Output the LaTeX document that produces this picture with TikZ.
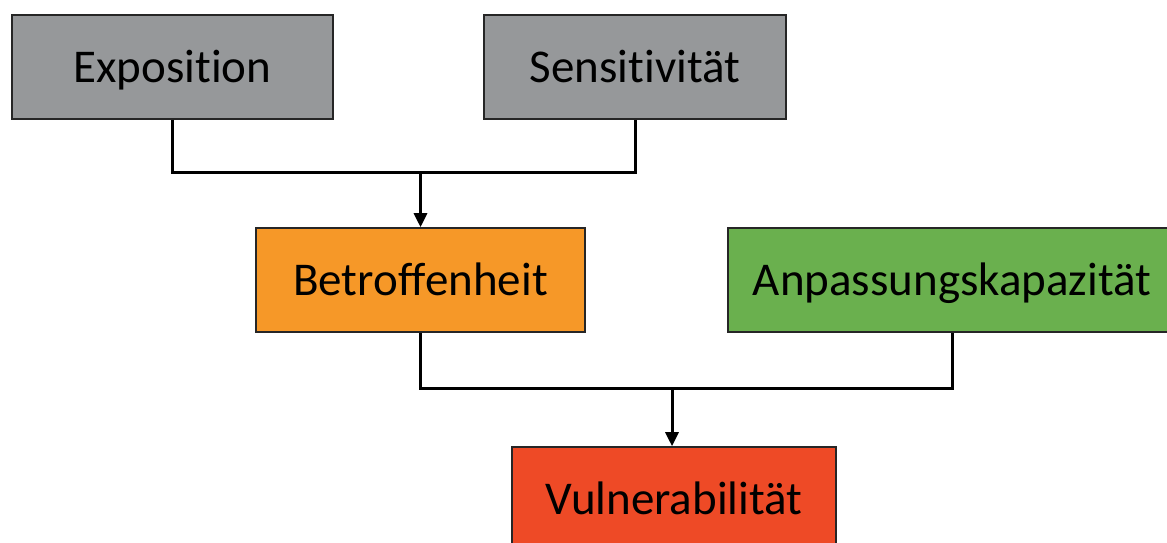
\documentclass[tikz,border=0pt]{standalone}
\usepackage{fontspec}
\setmainfont{Carlito}[Ligatures=CommonOff]
\usetikzlibrary{arrows.meta}
\definecolor{expgray}{RGB}{150,152,154}
\definecolor{betrorange}{RGB}{246,152,40}
\definecolor{anpgreen}{RGB}{106,176,78}
\definecolor{vulnred}{RGB}{238,74,38}

\begin{document}
\begin{tikzpicture}[ x=0.5pt, y=-0.5pt, >={Stealth[length=7pt,width=6.5pt,inset=0pt]},
    box/.style={ draw=black!85, line width=0.8pt, inner sep=0pt,
    minimum height=52pt, text height=15pt, text depth=0pt,
    font=\fontsize{23.5}{28}\selectfont }, link/.style={ line width=1.5pt } ]
  \useasboundingbox (0,0) rectangle (1167,542);
  \foreach \x/\y/\w/\c/\n/\l in {172.5/67/160.5/expgray/expo/Exposition,
    635/67/151/expgray/sens/Sensitivität,
    420.5/280/164.5/betrorange/betr/Betroffenheit,
    952/280/224/anpgreen/anp/Anpassungskapazität,
    674/499/162/vulnred/vuln/Vulnerabilität}
  \node[box,fill=\c,minimum width=\w pt] (\n) at (\x,\y) {\l};
  \coordinate (j1) at (420.5,172);
  \coordinate (j2) at (672,388);
  \draw[link] (expo.south) |- (j1) -| (sens.south);
  \draw[link,->] (j1) -- (betr.north);
  \draw[link] (betr.south) |- (j2) -| (anp.south);
  \draw[link,->] (j2) -- (j2 |- vuln.north);

\end{tikzpicture}
\end{document}
